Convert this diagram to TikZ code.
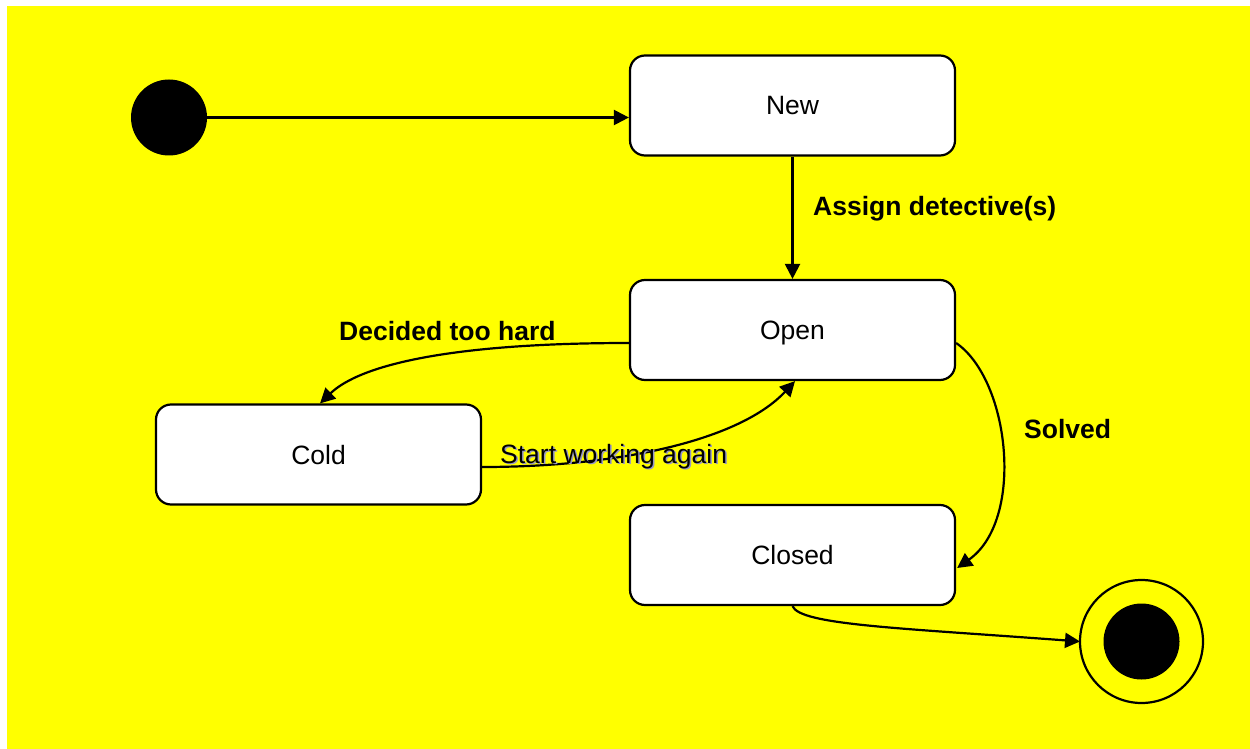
\documentclass[tikz,border=0pt]{standalone}
\usepackage{fontspec}
\setmainfont{Liberation Sans}
\usetikzlibrary{arrows.meta}
\definecolor{bgyellow}{RGB}{255,255,0}
\definecolor{shadowblue}{RGB}{150,150,200}
\begin{document}
\begin{tikzpicture}[x=1pt,y=-1pt,
  statebox/.style={draw=black,line width=2.2pt,fill=white,rounded corners=15pt,
    minimum width=325pt,minimum height=100pt,inner sep=0pt,
    text height=19pt,text depth=0pt,
    font=\fontsize{26.5}{30}\selectfont},
  trans/.style={line width=2.2pt,-{Triangle[length=15pt,width=15pt]}},
  boldlabel/.style={anchor=base west,inner sep=0pt,font=\fontsize{26.5}{30}\selectfont\bfseries},
  plainlabel/.style={anchor=base west,inner sep=0pt,font=\fontsize{26.5}{30}\selectfont}]
% page and canvas
\useasboundingbox (0,0) rectangle (1250,749);
\fill[white] (0,0) rectangle (1250,749);
\fill[bgyellow] (7,6) rectangle (1250,749);

% states
\node[statebox] (new) at (792.5,105.5) {New};
\node[statebox] (open) at (792.5,330) {Open};
\node[statebox] (cold) at (318.5,454.5) {Cold};
\node[statebox] (closed) at (792.5,555) {Closed};

% initial and final pseudo-states
\node[circle,fill=black,minimum size=76pt,inner sep=0pt] (init) at (169,117.5) {};
\node[circle,draw=black,line width=2.2pt,minimum size=123pt,inner sep=0pt,outer sep=0pt] (final) at (1141.5,641.5) {};
\node[circle,fill=black,minimum size=76pt,inner sep=0pt] (finaldot) at (1141.5,641.5) {};

% transitions
\draw[trans] (init.east) -- (init.east -| new.west);
\draw[trans] (new.south) -- (open.north);
\draw[trans] ([yshift=-13pt]open.west) .. controls (450,343) and (360,365) .. ([xshift=1.5pt]cold.north);
\draw[trans] ([yshift=-12.5pt]cold.east) .. controls (620,467) and (740,440) .. ([xshift=2.5pt]open.south);
\draw[trans] ([yshift=-13pt]open.east) .. controls (1010,380) and (1025,520) .. ([yshift=-13pt,xshift=1pt]closed.east);
\draw[trans] (closed.south) .. controls (800,625) and (900,628) .. (final.west);

% transition labels
\node[boldlabel] (lassign) at (813,215) {Assign detective(s)};
\node[boldlabel] (ldecided) at (339,340) {Decided too hard};
\node[boldlabel] (lsolved) at (1024,438) {Solved};
\node[plainlabel,text=shadowblue] (lstartshadow) at (501.5,464.5) {Start working again};
\node[plainlabel] (lstart) at (500,463) {Start working again};
\end{tikzpicture}
\end{document}
